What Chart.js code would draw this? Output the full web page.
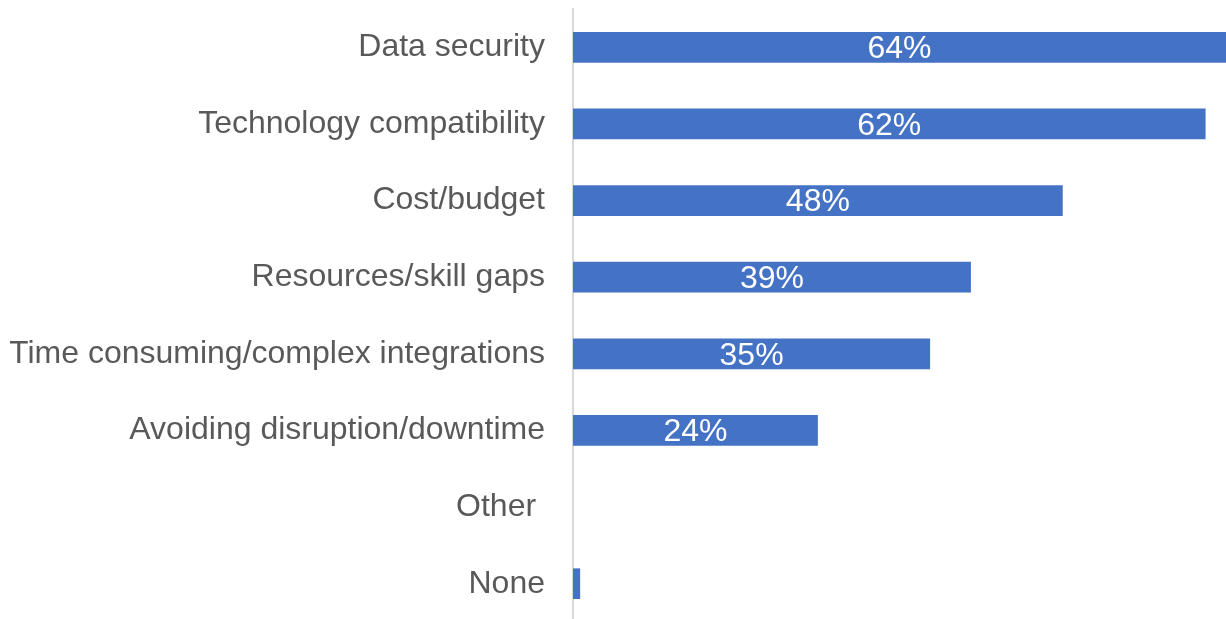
<!DOCTYPE html>
<html>
<head>
<meta charset="utf-8">
<script src="https://cdn.jsdelivr.net/npm/chart.js@4"></script>
<style>
  html, body { margin: 0; padding: 0; background: #fff; overflow: hidden; }
  canvas { display: block; }
</style>
</head>
<body>
<canvas id="chart" width="1226" height="622"></canvas>
<script>
// Challenges named by respondents, share in percent
const categories = [
  "Data security",
  "Technology compatibility",
  "Cost/budget",
  "Resources/skill gaps",
  "Time consuming/complex integrations",
  "Avoiding disruption/downtime",
  "Other ",
  "None"
];
const shares = [64, 62, 48, 39, 35, 24, 0, 0.7];
// Which bars carry a percentage label
const labelled = [true, true, true, true, true, true, false, false];

const FONT = "'Liberation Sans', Arial, sans-serif";

// Writes each bar's value in white, centred on the bar
const barValueLabels = {
  id: 'barValueLabels',
  afterDatasetsDraw(chart) {
    const { ctx } = chart;
    const meta = chart.getDatasetMeta(0);
    ctx.save();
    ctx.fillStyle = '#ffffff';
    ctx.font = '32px ' + FONT;
    ctx.textAlign = 'center';
    ctx.textBaseline = 'middle';
    meta.data.forEach((bar, i) => {
      if (!labelled[i]) return;
      const cx = (bar.x + bar.base) / 2;
      ctx.fillText(shares[i] + '%', cx, bar.y + 2);
    });
    ctx.restore();
  }
};

new Chart(document.getElementById('chart'), {
  type: 'bar',
  data: {
    labels: categories,
    datasets: [{
      data: shares,
      backgroundColor: '#4472C4',
      borderWidth: 0,
      categoryPercentage: 1,
      barPercentage: 0.4
    }]
  },
  options: {
    indexAxis: 'y',
    responsive: false,
    animation: false,
    layout: { padding: { left: 10, top: 9, right: 0, bottom: 0 } },
    plugins: {
      legend: { display: false },
      tooltip: { enabled: false }
    },
    scales: {
      x: {
        display: false,
        min: 0,
        max: 64
      },
      y: {
        afterFit(scale) {
          scale.width = 563;
          // category rows fill the full height; no extra room for label overhang
          scale.paddingTop = 0;
          scale.paddingBottom = 0;
        },
        grid: { display: false, drawTicks: false },
        border: { display: true, color: '#d9d9d9', width: 2 },
        ticks: {
          color: '#595959',
          padding: 28,
          font: { family: FONT, size: 32 }
        }
      }
    }
  },
  plugins: [barValueLabels]
});
</script>
</body>
</html>
